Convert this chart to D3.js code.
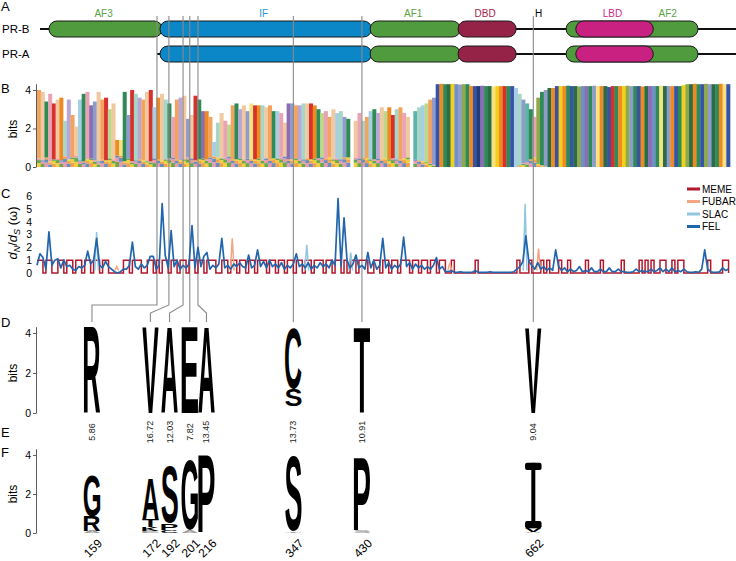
<!DOCTYPE html>
<html>
<head>
<meta charset="utf-8">
<script src="https://cdn.jsdelivr.net/npm/d3@7"></script>
<style>
  body { margin: 0; background: #fff; }
  text { font-family: "Liberation Sans", Arial, sans-serif; }
</style>
</head>
<body>
<svg id="fig" width="736" height="561"></svg>
<script>
// ---------------- data ----------------
// panel A: domain map, in alignment columns
var isoforms = ["PR-B", "PR-A"];
var isoformStart = [4, 161];
var isoformDomains = [["AF3", "IF", "AF1", "DBD", "AF2", "LBD"], ["IF", "AF1", "DBD", "AF2", "LBD"]];
var domainNames = ["AF3", "IF", "AF1", "DBD", "AF2", "LBD"];
var domainStart = [16, 165, 447, 565, 710, 723];
var domainEnd   = [168, 449, 568, 643, 887, 827];
var hingeCol = 673;

// panel B: sequence logo overview, one bin = 5 alignment columns
var logoSeq = "APSKRPGTEAPQSKDLPARNPGYSLRTEAPRQGPTSKAEPLPRSDGAQTPKNASEPLYRGTPASQKPDLAETPRGSNKAPQTLS" +
  "-" + "PKTAQSEPNGRTAKP" + "-" + "HTQNAL" + "IGSMCVLFSGIWDSMYCGRS" + "IQTLHSKF" + "SLMGI" +
  "CGSIMFVDSLYGMIRSGCFLSIGMDVSYMLGISCF" + "MGSIFLMSGYI";
var logoBits = [
  4.0,3.9,3.4,3.8,3.3,3.5,3.6,2.4,3.5,2.7,
  2.1,3.5,3.8,3.9,3.2,3.4,3.9,3.5,3.6,3.0,
  3.3,1.4,1.4,3.9,2.7,4.0,3.8,3.6,3.5,3.9,
  4.0,3.1,3.6,3.8,3.5,3.3,2.6,3.5,3.6,3.7,
  2.5,2.7,3.7,3.5,2.9,2.9,2.6,1.3,2.3,2.8,
  2.4,2.2,3.2,3.3,3.0,3.2,2.9,3.3,3.2,3.2,
  3.2,3.1,3.2,2.9,2.9,2.8,2.3,3.3,3.3,3.2,
  3.2,3.3,3.3,3.3,3.2,3.0,2.8,2.9,2.6,3.0,
  2.8,2.9,2.6,2.5,
  0,
  2.4,2.8,2.4,2.6,2.9,3.0,2.8,3.1,2.9,3.1,2.7,3.0,3.1,2.8,2.6,
  0,
  2.9,3.1,3.2,3.3,3.5,3.6,
  4.3,4.32,4.3,4.3,4.32,4.3,4.28,4.3,4.3,4.2,4.2,4.2,4.22,4.2,4.2,4.18,4.2,4.2,4.2,4.2,
  4.2,4.1,3.8,3.5,3.3,3.0,2.6,3.6,
  3.9,4.0,4.1,4.1,4.2,
  4.2,4.2,4.22,4.2,4.2,4.18,4.2,4.2,4.2,4.22,4.2,4.2,4.2,4.15,4.2,4.2,4.2,4.2,4.22,4.2,
  4.2,4.2,4.18,4.2,4.2,4.2,4.2,4.22,4.2,4.2,4.2,4.2,4.2,4.25,4.3,
  4.3,4.32,4.3,4.3,4.32,4.3,4.3,4.3,4.32,4.3,4.3
];
var logoBase = [
  0.45,0.35,0.5,0.3,0.4,0.45,0.35,0.55,0.4,0.5,
  0.6,0.35,0.3,0.4,0.45,0.35,0.3,0.4,0.35,0.45,
  0.4,0.6,0.6,0.3,0.45,0.3,0.35,0.4,0.35,0.3,
  0.3,0.45,0.4,0.35,0.4,0.45,0.5,0.4,0.35,0.4,
  0.5,0.45,0.35,0.4,0.45,0.4,0.5,0.55,0.5,0.45,
  0.5,0.55,0.4,0.4,0.45,0.4,0.45,0.4,0.4,0.45,
  0.4,0.45,0.4,0.45,0.45,0.5,0.55,0.4,0.4,0.45,
  0.4,0.4,0.45,0.4,0.45,0.45,0.5,0.45,0.5,0.4,
  0.45,0.4,0.5,0.5,
  0,
  0.5,0.45,0.5,0.45,0.4,0.4,0.45,0.4,0.45,0.4,0.45,0.4,0.4,0.45,0.5,
  0,
  0.4,0.35,0.3,0.25,0.2,0.15,
  0,0,0,0,0,0,0,0,0,0,0,0,0,0,0,0,0,0,0,0,
  0,0,0.1,0.2,0.3,0.4,0.5,0.2,
  0.1,0.05,0,0,0,
  0,0,0,0,0,0,0,0,0,0,0,0,0,0,0,0,0,0,0,0,
  0,0,0,0,0,0,0,0,0,0,0,0,0,0,0,
  0,0,0,0,0,0,0,0,0,0,0
];

// panel C: dN/dS, one sample every 4 alignment columns
var omegaStep = 4;
var felOmega = [
  0.6,1.5,1.2,0.3,3.2,0.6,1.0,1.1,0.4,1.0,
  0.5,0.6,0.3,0.2,0.5,0.4,0.6,1.7,0.7,1.0,
  2.7,0.6,0.4,0.9,0.5,0.3,0.1,0.0,0.1,0.3,
  0.3,0.6,2.4,0.5,0.3,0.7,0.4,0.6,1.3,1.3,
  0.3,0.6,5.4,1.4,0.4,3.3,0.5,1.0,0.3,0.6,
  0.4,0.7,3.7,0.4,2.0,0.5,1.3,1.6,0.3,0.6,
  0.4,0.7,2.7,0.4,0.6,0.3,0.7,0.5,0.8,0.5,
  0.4,1.4,0.4,0.6,1.8,0.5,0.9,0.4,1.0,0.5,
  0.7,0.4,0.8,0.3,0.6,0.4,0.7,1.5,0.5,0.7,
  0.4,0.8,0.3,0.6,0.4,0.8,0.5,0.7,0.4,1.0,
  0.6,5.8,0.5,4.3,1.0,0.4,0.7,1.4,0.4,0.6,
  0.3,1.6,0.4,1.0,0.3,0.6,2.7,0.4,0.8,0.3,
  0.6,0.4,0.7,2.8,0.5,0.8,0.3,0.7,0.4,0.6,
  0.3,0.5,0.3,0.6,1.2,0.3,0.5,0.1,
  0.1,0.2,0.05,0.05,0.1,0.05,0.05,0.05,0.05,0.2,
  0.05,0.05,0.05,0.05,0.1,0.05,0.05,0.05,0.05,0.05,
  0.05,0.05,0.1,0.3,0.5,0.9,2.9,0.9,0.6,0.3,
  0.8,0.3,0.5,0.2,0.4,0.2,1.8,0.5,0.2,0.4,
  0.1,0.3,0.1,0.2,0.5,0.1,0.2,0.1,0.4,0.1,
  0.1,0.3,0.1,0.1,0.4,0.1,0.1,0.3,0.1,0.1,
  0.05,0.05,0.1,0.3,0.1,0.2,0.1,0.1,0.3,0.1,
  0.2,0.4,0.1,0.3,0.1,0.4,0.1,0.2,0.1,0.3,
  0.1,0.05,0.05,0.1,0.05,0.3,1.8,0.3,0.1,0.05,
  0.05,0.1,0.4,0.2,0.3
];
var memeOmega = [
  1,1,0,1,1,0,0,1,1,0, 1,1,0,1,1,0,1,1,0,1,
  1,0,1,1,0,0,0,0,0,1, 1,0,1,1,1,0,0,1,1,0,
  1,0,1,1,0,1,1,0,1,1, 0,1,1,0,1,1,0,1,1,1,
  0,0,1,1,0,1,1,0,1,1, 0,1,1,0,1,1,1,0,1,1,
  0,1,1,0,1,1,0,1,1,0, 1,1,0,1,1,1,0,1,1,0,
  1,1,0,1,0,1,1,0,1,1, 1,0,0,1,1,0,1,1,0,1,
  1,0,1,1,1,0,1,1,0,1, 1,0,1,1,0,1,1,0,
  0,1,0,0,0,0,0,0,0,1, 0,0,0,0,0,0,0,0,0,0,
  0,0,0,1,0,0,0,1,0,0, 0,1,0,1,0,0,0,1,0,0,
  1,0,0,0,0,0,1,0,0,0, 0,1,0,0,0,0,0,0,1,0,
  0,0,0,0,1,0,1,0,1,0, 0,1,1,0,0,1,0,1,1,0,
  0,0,0,0,0,0,0,1,0,0, 0,0,1,1,0
];
var slacPeakCol = [80, 362, 421, 655];
var slacPeakVal = [3.2, 2.2, 1.6, 5.4];
var fubarPeakCol = [107, 262, 554, 673];
var fubarPeakVal = [0.5, 2.7, 0.8, 1.9];
var methods = ["MEME", "FUBAR", "SLAC", "FEL"];

// panels D-F: sites under selection
var sites = [159, 172, 192, 201, 216, 347, 430, 662];
var siteCol = [161, 177, 196, 205, 216, 344, 436, 666];
var omegaRatio = ["5.86", "16.72", "12.03", "7.82", "13.45", "13.73", "10.91", "9.04"];
// stacks bottom -> top: [letter, bits, grey?]
var logoD = [
  [["R", 4.3]], [["V", 4.3]], [["A", 4.3]], [["E", 4.3]], [["A", 4.3]],
  [["", 0.35], ["S", 0.85], ["C", 3.05]], [["T", 4.3]], [["V", 4.25]]
];
var logoF = [
  [["A", 0.1, 1], ["R", 0.75], ["G", 2.12]],
  [["E", 0.1, 1], ["K", 0.2], ["T", 0.37], ["A", 2.15]],
  [["C", 0.15], ["P", 0.35], ["S", 2.9]],
  [["A", 0.15, 1], ["G", 3.6]],
  [["P", 4.0]],
  [["T", 0.08, 1], ["S", 3.85]],
  [["S", 0.1, 1], ["P", 3.7]],
  [["A", 0.05, 1], ["V", 0.2], ["I", 3.35]]
];

// ---------------- styles ----------------
var domainFill = {AF3: "#4f9b3d", IF: "#0b86c7", AF1: "#4f9b3d", DBD: "#952247", AF2: "#4f9b3d", LBD: "#c92181"};
var domainText = {AF3: "#5aa346", IF: "#2497d2", AF1: "#5aa346", DBD: "#a02450", AF2: "#5aa346", LBD: "#d02a8a"};
var aaColor = {
  A: "#f2a35e", R: "#d7312e", N: "#bcd88a", D: "#8b6db3", C: "#f2cf1d",
  Q: "#a7cfe3", E: "#b9a6d6", G: "#ef8a23", H: "#5db4a9", I: "#3654a3",
  L: "#8f9ccb", K: "#e9a3b5", M: "#2b6c47", F: "#8ea94a", P: "#f1c9a0",
  S: "#2f8a55", T: "#a6d6c8", W: "#1f3d7a", Y: "#f6e27f", V: "#6f8fc6"
};
var baseColors = ["#f2cf3a", "#6aa84f", "#e79ab0", "#6c8ebf", "#f0a050"];
var methodColor = {MEME: "#b2182b", FUBAR: "#f4a582", SLAC: "#92c5de", FEL: "#2166ac"};
var GREY = "#8a8a8a";

var svg = d3.select("#fig");
var x = d3.scaleLinear().domain([0, 940]).range([37, 737.5]);

// letters used for logo stacks, stretched to their box
var ctx = document.createElement("canvas").getContext("2d");
ctx.font = "bold 100px 'Liberation Sans'";
function drawLetter(g, ch, x0, yTop, w, h, color) {
  if (!ch || h <= 0) return;
  if (ch === "I") {
    var bar = Math.min(h * 0.11, 8);
    g.append("rect").attr("x", x0).attr("y", yTop).attr("width", w).attr("height", bar).attr("rx", 2).attr("fill", color);
    g.append("rect").attr("x", x0 + w / 2 - 2).attr("y", yTop).attr("width", 4).attr("height", h).attr("fill", color);
    g.append("rect").attr("x", x0).attr("y", yTop + h - bar).attr("width", w).attr("height", bar).attr("rx", 2).attr("fill", color);
    return;
  }
  var m = ctx.measureText(ch);
  var bl = m.actualBoundingBoxLeft, br = m.actualBoundingBoxRight;
  var asc = m.actualBoundingBoxAscent, desc = m.actualBoundingBoxDescent;
  g.append("text").text(ch)
    .attr("font-size", 100)
    .attr("font-weight", "bold")
    .attr("fill", color)
    .attr("transform", "translate(" + x0 + "," + yTop + ") scale(" + (w / (bl + br)) + "," + (h / (asc + desc)) + ") translate(" + bl + "," + asc + ")");
}

function panelLabel(t, px, py) {
  svg.append("text").attr("x", px).attr("y", py).attr("font-size", 13).text(t);
}

function bitsAxis(y, midY) {
  var ax = svg.append("g").attr("transform", "translate(36,0)")
    .call(d3.axisLeft(y).tickValues([0, 2, 4]).tickFormat(d3.format("d")).tickSize(3).tickSizeOuter(0).tickPadding(2));
  ax.selectAll("text").attr("font-size", 10.5).attr("font-family", "Liberation Sans, Arial, sans-serif");
  ax.select(".domain").attr("stroke", "#333").attr("stroke-width", 0.8);
  ax.selectAll(".tick line").attr("stroke", "#333").attr("stroke-width", 0.8);
  svg.append("text").attr("transform", "translate(17," + midY + ") rotate(-90)")
    .attr("text-anchor", "middle").attr("font-size", 12).text("bits");
}

// ---------------- A: domain map ----------------
panelLabel("A", 1, 11);
var rowY = [29, 54];
isoforms.forEach(function(name, r) {
  var g = svg.append("g");
  g.append("text").attr("x", 2).attr("y", rowY[r] + 4).attr("font-size", 11.5).text(name);
  g.append("line")
    .attr("x1", x(isoformStart[r])).attr("x2", x(940))
    .attr("y1", rowY[r]).attr("y2", rowY[r])
    .attr("stroke", "#111").attr("stroke-width", 2.2);
  var doms = domainNames.map(function(d, k) { return {name: d, s: domainStart[k], e: domainEnd[k]}; })
    .filter(function(d) { return isoformDomains[r].indexOf(d.name) >= 0; });
  g.selectAll("rect.dom").data(doms).join("rect")
    .attr("class", "dom")
    .attr("x", function(d) { return x(d.s); })
    .attr("width", function(d) { return x(d.e) - x(d.s); })
    .attr("y", rowY[r] - 8).attr("height", 16).attr("rx", 8)
    .attr("fill", function(d) { return domainFill[d.name]; })
    .attr("stroke", "#1a1a1a").attr("stroke-width", 1);
});
var lbdEnd = domainEnd[domainNames.indexOf("LBD")];
svg.selectAll("text.domlab").data(domainNames).join("text")
  .attr("class", "domlab")
  .attr("x", function(d, k) {
    var c = d === "AF2" ? (lbdEnd + domainEnd[k]) / 2 - 8 : (domainStart[k] + domainEnd[k]) / 2;
    return x(c) - 2;
  })
  .attr("y", 16.5).attr("text-anchor", "middle").attr("font-size", 10)
  .attr("fill", function(d) { return domainText[d]; })
  .text(function(d) { return d; });
svg.append("text").attr("x", x(hingeCol)).attr("y", 16.5).attr("text-anchor", "middle").attr("font-size", 10).text("H");

// ---------------- B: logo overview ----------------
panelLabel("B", 1, 93);
var yB = d3.scaleLinear().domain([0, 4.32]).range([167, 83.8]);
var binW = x(5) - x(0);
var segs = [];
logoBits.forEach(function(h, i) {
  if (!h) return;
  var b = logoBase[i], acc = 0;
  [0.45, 0.35, 0.2].forEach(function(f, k) {
    if (b > 0) segs.push({i: i, lo: acc, hi: acc + b * f, c: baseColors[(i + k) % baseColors.length]});
    acc += b * f;
  });
  segs.push({i: i, lo: b, hi: h, c: aaColor[logoSeq[i]] || "#999"});
});
svg.append("g").selectAll("rect").data(segs).join("rect")
  .attr("x", function(d) { return x(d.i * 5); })
  .attr("width", binW + 0.3)
  .attr("y", function(d) { return yB(d.hi); })
  .attr("height", function(d) { return yB(d.lo) - yB(d.hi); })
  .attr("fill", function(d) { return d.c; });
bitsAxis(yB, 129);

// ---------------- site guide lines ----------------
var logoShift = [-65, -18.5, -13.5, 0, 8.5, 0, 0, 0];
function letterX(k) { return x(siteCol[k]) + logoShift[k]; }
var guide = d3.line();
svg.append("g").selectAll("path").data(sites).join("path")
  .attr("d", function(s, k) {
    var sx = x(siteCol[k]), lx = letterX(k);
    var pts = [[sx, 16], [sx, 305]];
    if (Math.abs(lx - sx) > 30) pts.push([lx, 305]);
    else if (Math.abs(lx - sx) > 0.5) pts.push([lx, 313]);
    pts.push([lx, 322]);
    return guide(pts);
  })
  .attr("fill", "none").attr("stroke", GREY).attr("stroke-width", 1.1);

// ---------------- C: dN/dS ----------------
panelLabel("C", 1, 198);
var yC = d3.scaleLinear().domain([0, 6]).range([273, 196]);
var axC = svg.append("g").attr("transform", "translate(36,0)")
  .call(d3.axisLeft(yC).tickValues([0, 1, 2, 3, 4, 5, 6]).tickFormat(d3.format("d")).tickSize(0).tickPadding(4));
axC.select(".domain").remove();
axC.selectAll("text").attr("font-size", 10.5).attr("font-family", "Liberation Sans, Arial, sans-serif");
var ylab = svg.append("text").attr("transform", "translate(17,233) rotate(-90)")
  .attr("text-anchor", "middle").attr("font-size", 13);
ylab.append("tspan").attr("font-style", "italic").text("d");
ylab.append("tspan").attr("font-style", "italic").attr("font-size", 9).attr("dy", 3).text("N");
ylab.append("tspan").attr("dy", -3).text("/");
ylab.append("tspan").attr("font-style", "italic").text("d");
ylab.append("tspan").attr("font-style", "italic").attr("font-size", 9).attr("dy", 3).text("S");
ylab.append("tspan").attr("dy", -3).text(" (\u03c9)");

var lineC = d3.line().x(function(d, i) { return x(i * omegaStep); }).y(function(d) { return yC(d); });
svg.append("path").datum(memeOmega)
  .attr("d", lineC.curve(d3.curveStepAfter))
  .attr("fill", "none").attr("stroke", methodColor.MEME).attr("stroke-width", 1.5);
function peakPath(c, v) {
  return d3.line()([[x(c - 2.5), yC(0.2)], [x(c), yC(v)], [x(c + 2.5), yC(0.2)]]);
}
svg.append("g").selectAll("path").data(fubarPeakCol).join("path")
  .attr("d", function(c, k) { return peakPath(c, fubarPeakVal[k]); })
  .attr("fill", "none").attr("stroke", methodColor.FUBAR).attr("stroke-width", 1.5);
svg.append("g").selectAll("path").data(slacPeakCol).join("path")
  .attr("d", function(c, k) { return peakPath(c, slacPeakVal[k]); })
  .attr("fill", "none").attr("stroke", methodColor.SLAC).attr("stroke-width", 1.5);
svg.append("path").datum(felOmega)
  .attr("d", d3.line().x(function(d, i) { return x(i * omegaStep); }).y(function(d) { return yC(d); }))
  .attr("fill", "none").attr("stroke", methodColor.FEL).attr("stroke-width", 1.7).attr("stroke-linejoin", "round");

var leg = svg.append("g").selectAll("g").data(methods).join("g")
  .attr("transform", function(d, k) { return "translate(687," + (189 + k * 12.5) + ")"; });
leg.append("line").attr("x1", 0).attr("x2", 13).attr("stroke", function(d) { return methodColor[d]; }).attr("stroke-width", 3);
leg.append("text").attr("x", 15).attr("dy", "0.35em").attr("font-size", 10).text(function(d) { return d; });

// ---------------- D: logo of the selected sites ----------------
panelLabel("D", 1, 327);
var yD = d3.scaleLinear().domain([0, 4.32]).range([413, 326.6]);
var LW = 16.5;
function drawStacks(stacks, y) {
  var g = svg.append("g");
  stacks.forEach(function(stack, k) {
    var x0 = letterX(k) - LW / 2, acc = 0;
    stack.forEach(function(l) {
      drawLetter(g, l[0], x0, y(acc + l[1]), LW, y(acc) - y(acc + l[1]), l[2] ? "#a0a0a0" : "#000");
      acc += l[1];
    });
  });
}
drawStacks(logoD, yD);
bitsAxis(yD, 373);

// ---------------- E: omega values ----------------
panelLabel("E", 1, 437);
svg.append("g").selectAll("text").data(omegaRatio).join("text")
  .attr("transform", function(d, k) { return "translate(" + (letterX(k) + 3) + ",432) rotate(-90)"; })
  .attr("text-anchor", "middle").attr("font-size", 9).attr("fill", "#222")
  .text(function(d) { return d; });

// ---------------- F: logo at the same sites ----------------
panelLabel("F", 1, 457);
var yF = d3.scaleLinear().domain([0, 4.32]).range([533, 448.8]);
drawStacks(logoF, yF);
bitsAxis(yF, 494);
svg.append("g").selectAll("text").data(sites).join("text")
  .attr("transform", function(d, k) { return "translate(" + (letterX(k) + 8) + ",541) rotate(-45)"; })
  .attr("text-anchor", "end").attr("font-size", 12).attr("dy", "0.35em")
  .text(function(d) { return d; });
</script>
</body>
</html>
